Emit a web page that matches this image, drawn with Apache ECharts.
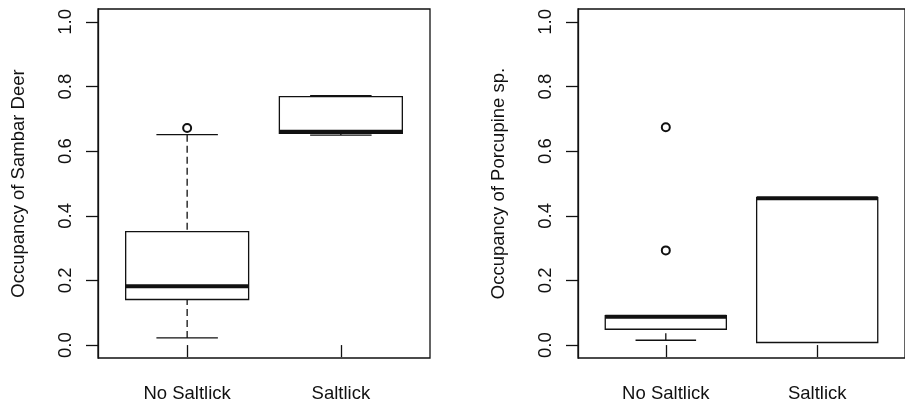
<!DOCTYPE html>
<html>
<head>
<meta charset="utf-8">
<script src="https://cdn.jsdelivr.net/npm/echarts@6/dist/echarts.min.js"></script>
<style>
  html, body { margin: 0; padding: 0; background: #fff; }
  #chart { width: 905px; height: 406px; }
</style>
</head>
<body>
<div id="chart"></div>
<script>
// Groups on the x axis (positions 1 and 2)
const groups = ['No Saltlick', 'Saltlick'];
const yTicks = [0, 0.2, 0.4, 0.6, 0.8, 1.0];

// [min, Q1, median, Q3, max] per group
const sambarStats = [
    [0.022, 0.141, 0.182, 0.351, 0.651],
    [0.650, 0.655, 0.660, 0.769, 0.772]
];
const sambarOutliers = [[1, 0.672]];

const porcupineStats = [
    [0.015, 0.049, 0.088, 0.091, 0.091],
    [0.008, 0.008, 0.454, 0.456, 0.456]
];
const porcupineOutliers = [[1, 0.674], [1, 0.293]];

const FONT = "'Liberation Sans', Arial, sans-serif";
const INK = '#111';

/**
 * Draws one R-style box: thin box, thick median, dashed whiskers, short caps
 */
function renderBox(params, api) {
    const x = api.value(0);
    const w = api.size([0.8, 0])[0];
    const pMin = api.coord([x, api.value(1)]);
    const pQ1 = api.coord([x, api.value(2)]);
    const pMed = api.coord([x, api.value(3)]);
    const pQ3 = api.coord([x, api.value(4)]);
    const pMax = api.coord([x, api.value(5)]);
    const cx = pMed[0];
    const left = cx - w / 2;
    const thin = { stroke: INK, lineWidth: 1.3 };
    const dashed = { stroke: INK, lineWidth: 1.3, lineDash: [7, 4] };
    const children = [];

    if (pMax[1] < pQ3[1] - 0.5) {
        children.push({ type: 'line', shape: { x1: cx, y1: pMax[1], x2: cx, y2: pQ3[1] }, style: dashed });
        children.push({ type: 'line', shape: { x1: cx - w / 4, y1: pMax[1], x2: cx + w / 4, y2: pMax[1] }, style: thin });
    }
    if (pMin[1] > pQ1[1] + 0.5) {
        children.push({ type: 'line', shape: { x1: cx, y1: pMin[1], x2: cx, y2: pQ1[1] }, style: dashed });
        children.push({ type: 'line', shape: { x1: cx - w / 4, y1: pMin[1], x2: cx + w / 4, y2: pMin[1] }, style: thin });
    }
    children.push({
        type: 'rect',
        shape: { x: left, y: pQ3[1], width: w, height: pQ1[1] - pQ3[1] },
        style: { fill: 'rgba(0,0,0,0)', stroke: INK, lineWidth: 1.3 }
    });
    children.push({
        type: 'line',
        shape: { x1: left, y1: pMed[1], x2: left + w, y2: pMed[1] },
        style: { stroke: INK, lineWidth: 4 }
    });
    return { type: 'group', children: children };
}

function makeGrid(left) {
    return {
        left: left, top: 9, width: 332, height: 349,
        show: true, borderColor: INK, borderWidth: 1.3, backgroundColor: 'transparent'
    };
}

function makeXAxis(index) {
    return {
        type: 'value', gridIndex: index, min: 0.42, max: 2.58,
        axisLine: { show: false },
        splitLine: { show: false },
        axisTick: { show: true, customValues: [1, 2], length: 12, lineStyle: { color: INK, width: 1.3 } },
        axisLabel: {
            customValues: [1, 2], margin: 26,
            fontFamily: FONT, fontSize: 18.5, color: INK,
            formatter: v => groups[Math.round(v) - 1]
        }
    };
}

function makeYAxis(index, title) {
    return {
        type: 'value', gridIndex: index, min: -0.04, max: 1.04,
        name: title, nameLocation: 'middle', nameGap: 70,
        nameTextStyle: { fontFamily: FONT, fontSize: 18.5, color: INK },
        axisLine: { show: true, lineStyle: { color: INK, width: 1.3 } },
        splitLine: { show: false },
        axisTick: { show: true, customValues: yTicks, length: 12, lineStyle: { color: INK, width: 1.3 } },
        axisLabel: {
            customValues: yTicks, rotate: 90, margin: 23,
            fontFamily: FONT, fontSize: 18.5, color: INK,
            formatter: v => v.toFixed(1)
        }
    };
}

function boxSeries(index, stats) {
    return {
        type: 'custom', xAxisIndex: index, yAxisIndex: index,
        renderItem: renderBox, clip: false, z: 3,
        encode: { x: 0, y: [1, 2, 3, 4, 5] },
        data: stats.map((s, i) => [i + 1].concat(s))
    };
}

function outlierSeries(index, points, width) {
    return {
        type: 'scatter', xAxisIndex: index, yAxisIndex: index, z: 4,
        symbol: 'emptyCircle', symbolSize: 8,
        itemStyle: { color: INK, borderColor: INK, borderWidth: width, opacity: 1 },
        data: points
    };
}

const chart = echarts.init(document.getElementById('chart'));
chart.setOption({
    animation: false,
    backgroundColor: '#fff',
    grid: [makeGrid(98), makeGrid(578)],
    xAxis: [makeXAxis(0), makeXAxis(1)],
    yAxis: [makeYAxis(0, 'Occupancy of Sambar Deer'), makeYAxis(1, 'Occupancy of Porcupine sp.')],
    series: [
        boxSeries(0, sambarStats),
        outlierSeries(0, sambarOutliers, 1.4),
        boxSeries(1, porcupineStats),
        outlierSeries(1, porcupineOutliers, 2)
    ]
});
</script>
</body>
</html>
